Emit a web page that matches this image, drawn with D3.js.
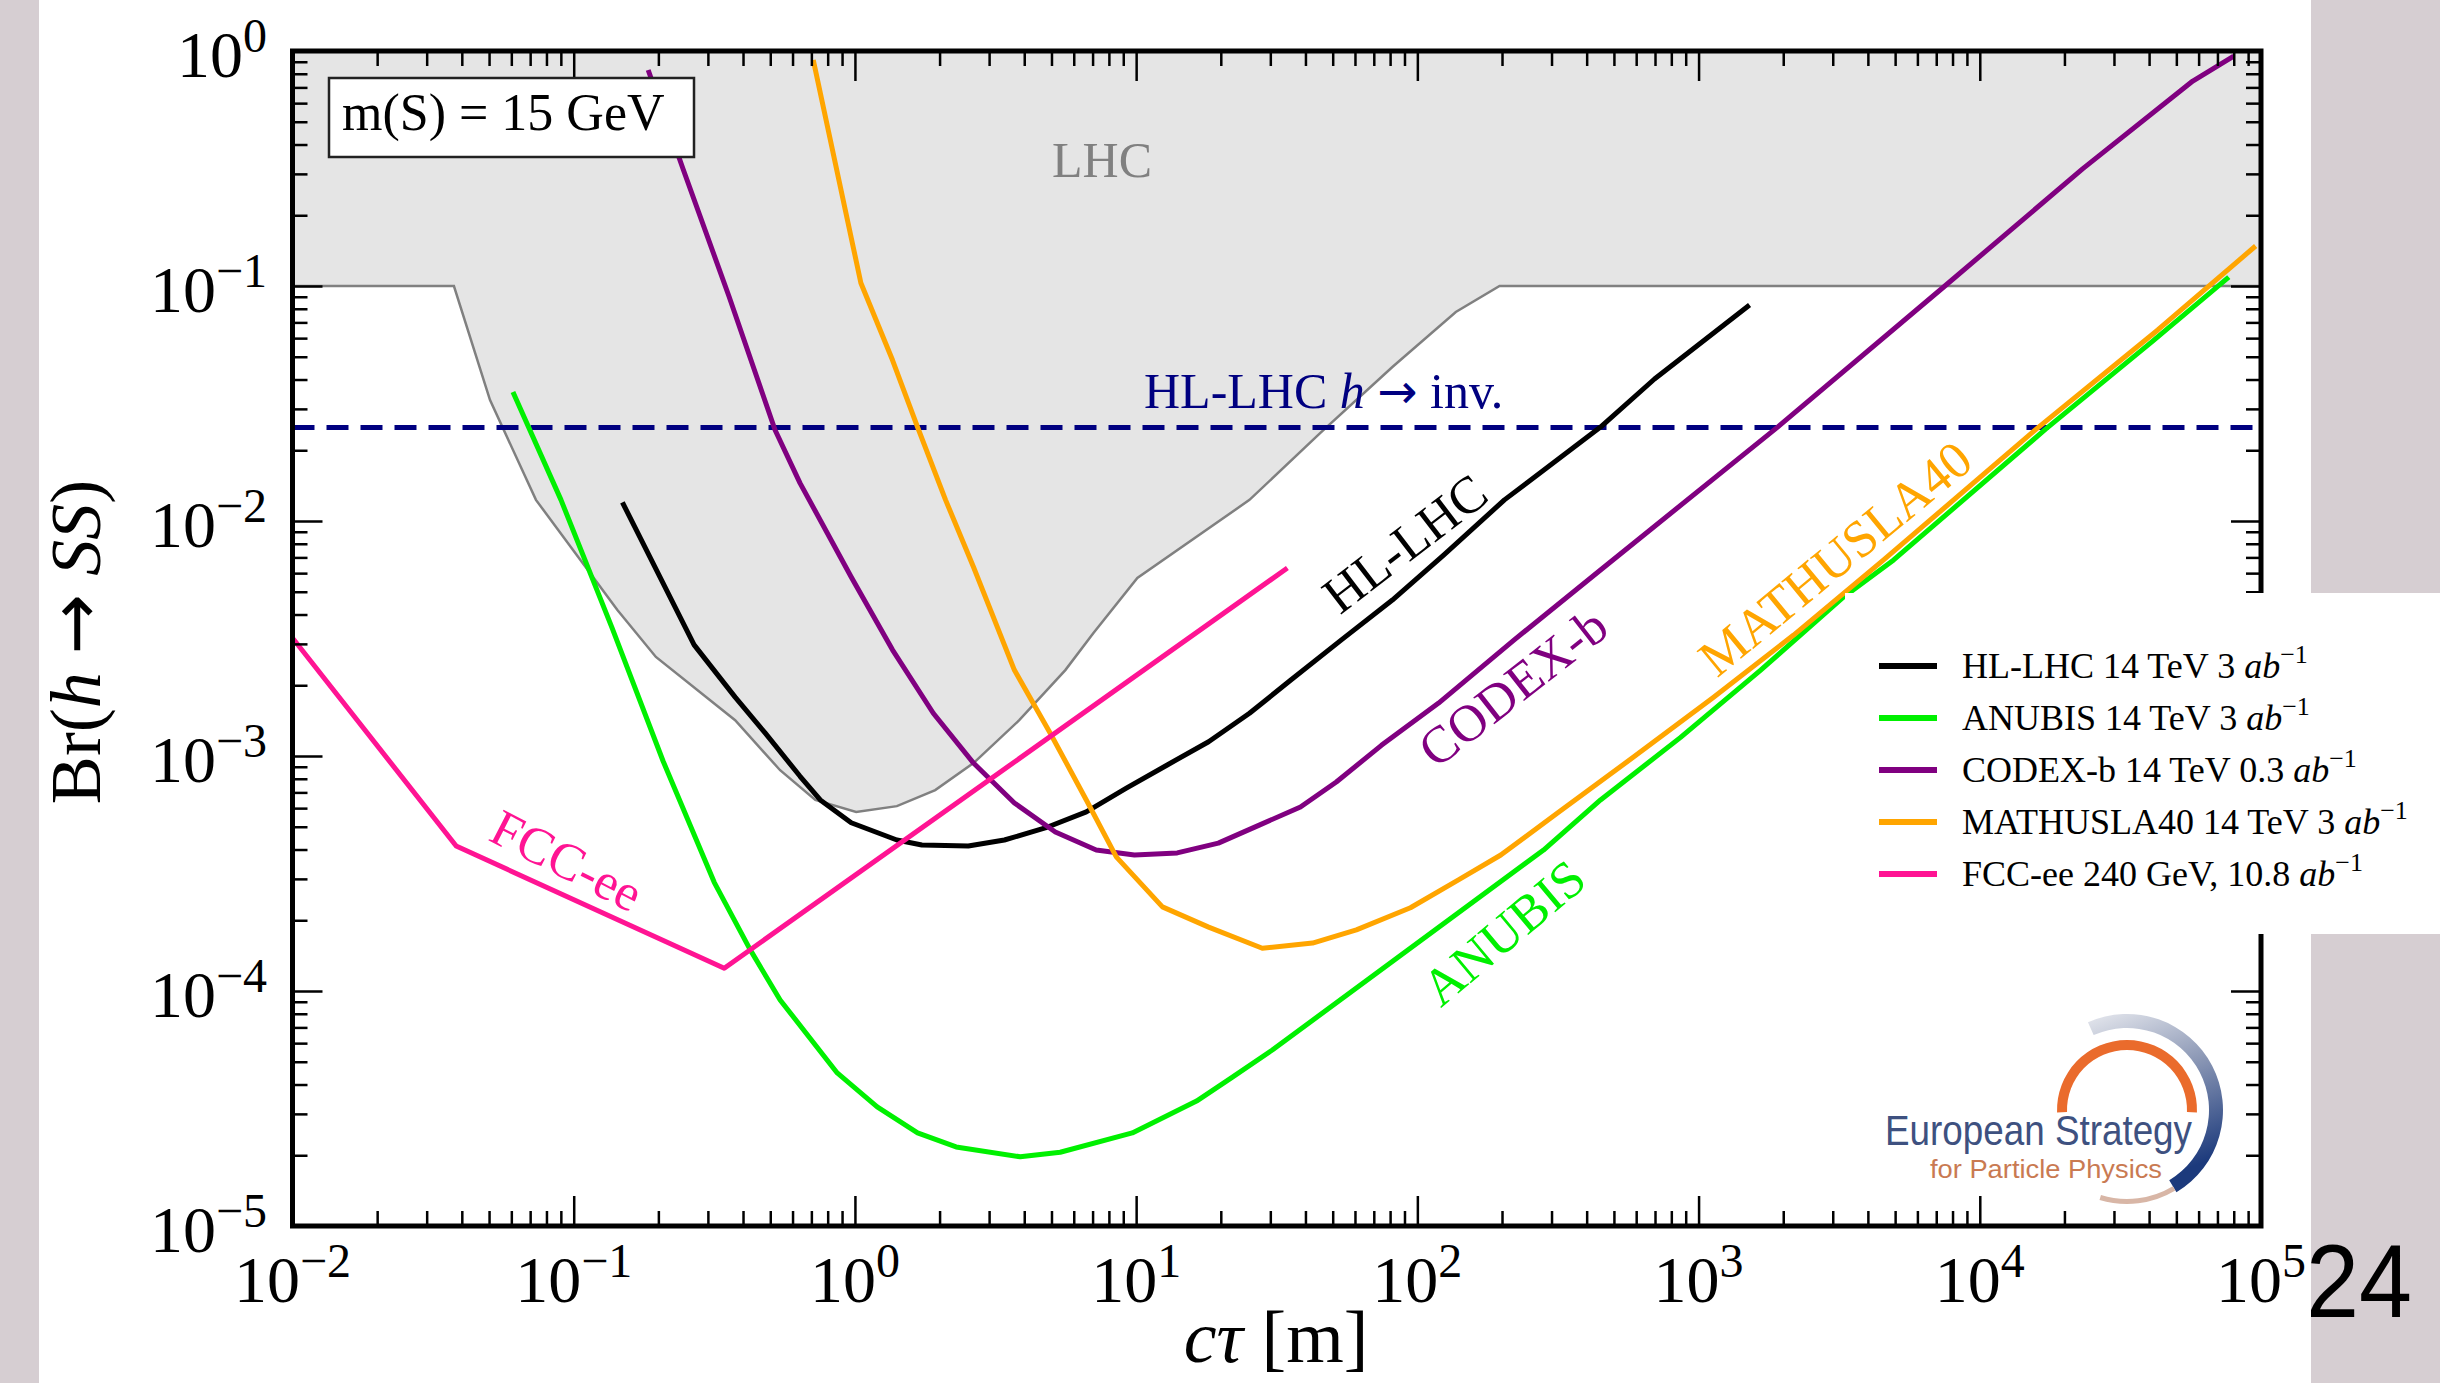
<!DOCTYPE html>
<html>
<head>
<meta charset="utf-8">
<script src="https://cdn.jsdelivr.net/npm/d3@7"></script>
<style>
  html, body { margin: 0; padding: 0; background: #d6ced2; }
  svg { display: block; }
  text { font-family: 'Liberation Serif', 'Times New Roman', serif; }
</style>
</head>
<body>
<script>
// LHC excluded region (upper boundary of the white area)
const lhcCtau = [0.01, 0.0375, 0.0504, 0.0734, 0.143, 0.196, 0.375, 0.542, 0.723, 1.01, 1.41, 1.93, 2.64, 3.84, 5.6, 7.05, 10.1, 25.3, 45.2, 81.5, 137, 196, 1e5]
const lhcBr = [0.1, 0.1, 0.0327, 0.0123, 0.00418, 0.00264, 0.00142, 0.00087, 0.00065, 0.000578, 0.000612, 0.000716, 0.000933, 0.00142, 0.00232, 0.00334, 0.00572, 0.0123, 0.0237, 0.0452, 0.0775, 0.1, 0.1]

const hllhcCtau = [0.149, 0.268, 0.375, 0.48, 0.638, 0.753, 0.97, 1.41, 1.73, 2.53, 3.4, 4.75, 6.65, 9.23, 12.9, 18.1, 25.3, 35.4, 53.7, 81.5, 124, 204, 448, 697, 1518]
const hllhcBr = [0.012, 0.00297, 0.00178, 0.00125, 0.00082, 0.00065, 0.00052, 0.000439, 0.000418, 0.000414, 0.000439, 0.000494, 0.000578, 0.00073, 0.000916, 0.00115, 0.00152, 0.0021, 0.00312, 0.00461, 0.00716, 0.0123, 0.0251, 0.0402, 0.083]

const anubisCtau = [0.0608, 0.0901, 0.137, 0.208, 0.316, 0.424, 0.542, 0.865, 1.2, 1.67, 2.29, 3.87, 5.37, 9.69, 16.4, 22, 30.5, 281, 448, 863, 1663, 3281, 4940, 17140, 41200, 76800]
const anubisBr = [0.0354, 0.0123, 0.0035, 0.00095, 0.00029, 0.00015, 9.16e-5, 4.48e-5, 3.21e-5, 2.49e-5, 2.17e-5, 1.97e-5, 2.06e-5, 2.49e-5, 3.4e-5, 4.3e-5, 5.61e-5, 0.000398, 0.00065, 0.0012, 0.00232, 0.00475, 0.00683, 0.0246, 0.0583, 0.109]

const codexCtau = [0.184, 0.245, 0.357, 0.52, 0.638, 0.97, 1.36, 1.9, 2.64, 3.69, 5.16, 7.21, 9.86, 14, 19.6, 27.4, 38.4, 51.5, 74.5, 119, 221, 448, 1910, 7440, 23200, 57200, 80000]
const codexBr = [0.83, 0.314, 0.09, 0.0244, 0.0145, 0.00578, 0.00283, 0.00152, 0.000933, 0.000631, 0.000475, 0.000398, 0.000379, 0.000387, 0.000426, 0.000508, 0.000607, 0.000775, 0.00111, 0.00168, 0.00312, 0.00619, 0.0251, 0.099, 0.315, 0.745, 0.95]

const mathuslaCtau = [0.711, 1.05, 1.36, 1.67, 2.1, 2.64, 3.69, 4.95, 6.65, 8.5, 12.4, 18.1, 28.1, 42.4, 60.7, 94.5, 140, 198, 315, 587, 1131, 2178, 4550, 16070, 42950, 95700]
const mathuslaBr = [0.916, 0.103, 0.0484, 0.0251, 0.0123, 0.00637, 0.00232, 0.00125, 0.00065, 0.000372, 0.000228, 0.000187, 0.000152, 0.00016, 0.000182, 0.000226, 0.000297, 0.000379, 0.000572, 0.00099, 0.00178, 0.00327, 0.00683, 0.0249, 0.065, 0.148]

const fccCtau = [0.01, 0.0382, 0.343, 34.5]
const fccBr = [0.00318, 0.000414, 0.000125, 0.00631]

const invisibleBr = 0.025

const xExponents = [-2, -1, 0, 1, 2, 3, 4, 5]
const yExponents = [-5, -4, -3, -2, -1, 0]

const seriesNames = ['HL-LHC', 'ANUBIS', 'CODEX-b', 'MATHUSLA40', 'FCC-ee']
const legendLabels = ['HL-LHC 14 TeV 3 ', 'ANUBIS 14 TeV 3 ', 'CODEX-b 14 TeV 0.3 ', 'MATHUSLA40 14 TeV 3 ', 'FCC-ee 240 GeV, 10.8 ']
const colors = ['#000000', '#00f000', '#800080', '#ffa500', '#ff1493']

// where the curve names sit (data coordinates) and their angle
const labelCtau = [90, 202, 218, 3050, 0.0947]
const labelBr = [0.00806, 0.000178, 0.00197, 0.00696, 0.000361]
const labelAngle = [-37.5, -40, -38, -39.5, 27]

const zip = (a, b) => a.map((v, i) => [v, b[i]])
const series = [
  zip(hllhcCtau, hllhcBr),
  zip(anubisCtau, anubisBr),
  zip(codexCtau, codexBr),
  zip(mathuslaCtau, mathuslaBr),
  zip(fccCtau, fccBr)
]

const width = 2440
const height = 1383
const plot = { left: 292.5, right: 2261, top: 51, bottom: 1226 }
const sans = "'Liberation Sans', Arial, sans-serif"
const arrowFont = "'DejaVu Sans', sans-serif"

const x = d3.scaleLog().domain([1e-2, 1e5]).range([plot.left, plot.right])
const y = d3.scaleLog().domain([1e-5, 1]).range([plot.bottom, plot.top])

const svg = d3.select('body').append('svg')
  .attr('width', width)
  .attr('height', height)

const defs = svg.append('defs')
defs.append('clipPath').attr('id', 'plot-clip')
  .append('rect')
  .attr('x', plot.left).attr('y', plot.top)
  .attr('width', plot.right - plot.left).attr('height', plot.bottom - plot.top)

const ringGrad = defs.append('linearGradient').attr('id', 'ring-grad')
  .attr('x1', 0).attr('y1', 0).attr('x2', 0.3).attr('y2', 1)
ringGrad.append('stop').attr('offset', '0%').attr('stop-color', '#e6e8ee')
ringGrad.append('stop').attr('offset', '45%').attr('stop-color', '#8d99b6')
ringGrad.append('stop').attr('offset', '100%').attr('stop-color', '#1c3a7c')

// slide background, page number, white content area
svg.append('rect').attr('width', width).attr('height', height).attr('fill', '#d6ced2')
svg.append('text')
  .attr('x', 2306).attr('y', 1317)
  .style('font-family', sans)
  .attr('font-size', 104)
  .attr('textLength', 106)
  .attr('lengthAdjust', 'spacingAndGlyphs')
  .attr('fill', '#000')
  .text('24')
svg.append('rect').attr('x', 39).attr('y', 0).attr('width', 2311 - 39).attr('height', height).attr('fill', '#fff')

const g = svg.append('g')
const clipped = g.append('g').attr('clip-path', 'url(#plot-clip)')

const line = d3.line().x(d => x(d[0])).y(d => y(d[1]))

// LHC shaded region
const lhc = zip(lhcCtau, lhcBr)
const lhcArea = lhc.concat([[1e5, 1], [1e-2, 1]])
clipped.append('path')
  .attr('d', line(lhcArea) + 'Z')
  .attr('fill', '#e5e5e5')
clipped.append('path')
  .attr('d', line(lhc))
  .attr('fill', 'none')
  .attr('stroke', '#808080')
  .attr('stroke-width', 2.5)

// HL-LHC h -> inv line
clipped.append('line')
  .attr('x1', x(1e-2)).attr('x2', x(1e5))
  .attr('y1', y(invisibleBr)).attr('y2', y(invisibleBr))
  .attr('stroke', '#000080')
  .attr('stroke-width', 5)
  .attr('stroke-dasharray', '22,12')

clipped.selectAll('path.curve')
  .data(series)
  .enter()
  .append('path')
  .attr('class', 'curve')
  .attr('d', line)
  .attr('fill', 'none')
  .attr('stroke', (d, i) => colors[i])
  .attr('stroke-width', 5)
  .attr('stroke-linejoin', 'round')

// ticks on all four sides, pointing inwards
const isMajor = d => Math.abs(Math.log10(d) - Math.round(Math.log10(d))) < 1e-9
const xMinor = x.ticks().filter(d => !isMajor(d))
const yMinor = y.ticks().filter(d => !isMajor(d))
const xMajor = xExponents.map(e => Math.pow(10, e))
const yMajor = yExponents.map(e => Math.pow(10, e))

function tickAxis (axis, scale, values, size, transform) {
  const a = g.append('g')
    .attr('transform', transform)
    .call(axis(scale).tickValues(values).tickSize(-size).tickFormat(''))
  a.select('.domain').remove()
  a.selectAll('line').attr('stroke', '#000').attr('stroke-width', 2.5)
}
tickAxis(d3.axisBottom, x, xMinor, 15, 'translate(0,' + plot.bottom + ')')
tickAxis(d3.axisBottom, x, xMajor, 30, 'translate(0,' + plot.bottom + ')')
tickAxis(d3.axisTop, x, xMinor, 15, 'translate(0,' + plot.top + ')')
tickAxis(d3.axisTop, x, xMajor, 30, 'translate(0,' + plot.top + ')')
tickAxis(d3.axisLeft, y, yMinor, 15, 'translate(' + plot.left + ',0)')
tickAxis(d3.axisLeft, y, yMajor, 30, 'translate(' + plot.left + ',0)')
tickAxis(d3.axisRight, y, yMinor, 15, 'translate(' + plot.right + ',0)')
tickAxis(d3.axisRight, y, yMajor, 30, 'translate(' + plot.right + ',0)')

g.append('rect')
  .attr('x', plot.left).attr('y', plot.top)
  .attr('width', plot.right - plot.left).attr('height', plot.bottom - plot.top)
  .attr('fill', 'none')
  .attr('stroke', '#000')
  .attr('stroke-width', 5)

// in-plot annotations
g.append('text')
  .attr('x', 1052).attr('y', 177)
  .attr('font-size', 50)
  .attr('fill', '#808080')
  .text('LHC')

const inv = g.append('text')
  .attr('x', 1144).attr('y', 408)
  .attr('font-size', 50)
  .attr('fill', '#000080')
inv.append('tspan').text('HL-LHC ')
inv.append('tspan').attr('font-style', 'italic').text('h')
inv.append('tspan').text(' ')
inv.append('tspan').style('font-family', arrowFont).attr('font-size', 48).text('\u2192')
inv.append('tspan').text(' inv.')

g.selectAll('text.curve-label')
  .data(seriesNames)
  .enter()
  .append('text')
  .attr('class', 'curve-label')
  .attr('transform', (d, i) => 'translate(' + x(labelCtau[i]) + ',' + y(labelBr[i]) + ') rotate(' + labelAngle[i] + ')')
  .attr('text-anchor', 'middle')
  .attr('dy', '0.35em')
  .attr('font-size', 52)
  .attr('fill', (d, i) => colors[i])
  .text(d => d)

// mass box
g.append('rect')
  .attr('x', 329).attr('y', 78)
  .attr('width', 365).attr('height', 79)
  .attr('fill', '#fff')
  .attr('stroke', '#222')
  .attr('stroke-width', 2.5)
g.append('text')
  .attr('x', 342).attr('y', 130)
  .attr('font-size', 52)
  .text('m(S) = 15 GeV')

// legend on its own white patch
g.append('rect')
  .attr('x', 1845).attr('y', 593)
  .attr('width', width - 1845).attr('height', 341)
  .attr('fill', '#fff')

const legend = g.append('g')
  .attr('transform', 'translate(1879,666)')
const rows = legend.selectAll('g')
  .data(legendLabels)
  .enter()
  .append('g')
  .attr('transform', (d, i) => 'translate(0,' + i * 52 + ')')
rows.append('line')
  .attr('x1', 0).attr('x2', 58)
  .attr('stroke', (d, i) => colors[i])
  .attr('stroke-width', 6)
const rowText = rows.append('text')
  .attr('x', 83).attr('y', 12)
  .attr('font-size', 36)
rowText.append('tspan').text(d => d)
rowText.append('tspan').attr('font-style', 'italic').text('ab')
rowText.append('tspan').attr('font-size', 26).attr('dy', -15).text('\u22121')

// tick labels
function powerLabel (sel, exp) {
  sel.append('tspan').text('10')
  sel.append('tspan')
    .attr('font-size', 48)
    .attr('dy', -25)
    .text(exp < 0 ? '\u2212' + (-exp) : String(exp))
}
g.selectAll('text.xlab')
  .data(xExponents)
  .enter()
  .append('text')
  .attr('class', 'xlab')
  .attr('x', d => x(Math.pow(10, d)))
  .attr('y', 1302)
  .attr('text-anchor', 'middle')
  .attr('font-size', 66)
  .each(function (d) { powerLabel(d3.select(this), d) })

g.selectAll('text.ylab')
  .data(yExponents)
  .enter()
  .append('text')
  .attr('class', 'ylab')
  .attr('x', 267)
  .attr('y', d => y(Math.pow(10, d)) + 26)
  .attr('text-anchor', 'end')
  .attr('font-size', 66)
  .each(function (d) { powerLabel(d3.select(this), d) })

// axis titles
const xTitle = g.append('text')
  .attr('x', 1276).attr('y', 1362)
  .attr('text-anchor', 'middle')
  .attr('font-size', 74)
xTitle.append('tspan').attr('font-style', 'italic').text('c\u03c4')
xTitle.append('tspan').text(' [m]')

const yTitle = g.append('text')
  .attr('transform', 'translate(100,642) rotate(-90)')
  .attr('text-anchor', 'middle')
  .attr('font-size', 72)
yTitle.append('tspan').text('Br(')
yTitle.append('tspan').attr('font-style', 'italic').text('h')
yTitle.append('tspan').text(' ')
yTitle.append('tspan').style('font-family', arrowFont).attr('font-size', 72).text('\u2192')
yTitle.append('tspan').text(' ')
yTitle.append('tspan').attr('font-style', 'italic').text('SS')
yTitle.append('tspan').text(')')

// European Strategy logo
const logo = g.append('g').attr('transform', 'translate(2127,1110)')
const arc = d3.arc()
const deg = Math.PI / 180
logo.append('path')
  .attr('d', arc({ innerRadius: 82, outerRadius: 96, startAngle: -24 * deg, endAngle: 149 * deg }))
  .attr('fill', 'url(#ring-grad)')
logo.append('path')
  .attr('d', arc({ innerRadius: 89, outerRadius: 94, startAngle: 149 * deg, endAngle: 197 * deg }))
  .attr('fill', '#d8b6a6')
logo.append('path')
  .attr('d', arc({ innerRadius: 60, outerRadius: 70, startAngle: -92 * deg, endAngle: 92 * deg }))
  .attr('fill', '#ea6b2c')
logo.append('text')
  .attr('x', 1885 - 2127).attr('y', 1145 - 1110)
  .style('font-family', sans)
  .attr('font-size', 42)
  .attr('textLength', 307)
  .attr('lengthAdjust', 'spacingAndGlyphs')
  .attr('fill', '#3e5180')
  .text('European Strategy')
logo.append('text')
  .attr('x', 1930 - 2127).attr('y', 1178 - 1110)
  .style('font-family', sans)
  .attr('font-size', 26)
  .attr('textLength', 232)
  .attr('lengthAdjust', 'spacingAndGlyphs')
  .attr('fill', '#c97a52')
  .text('for Particle Physics')
</script>
</body>
</html>
